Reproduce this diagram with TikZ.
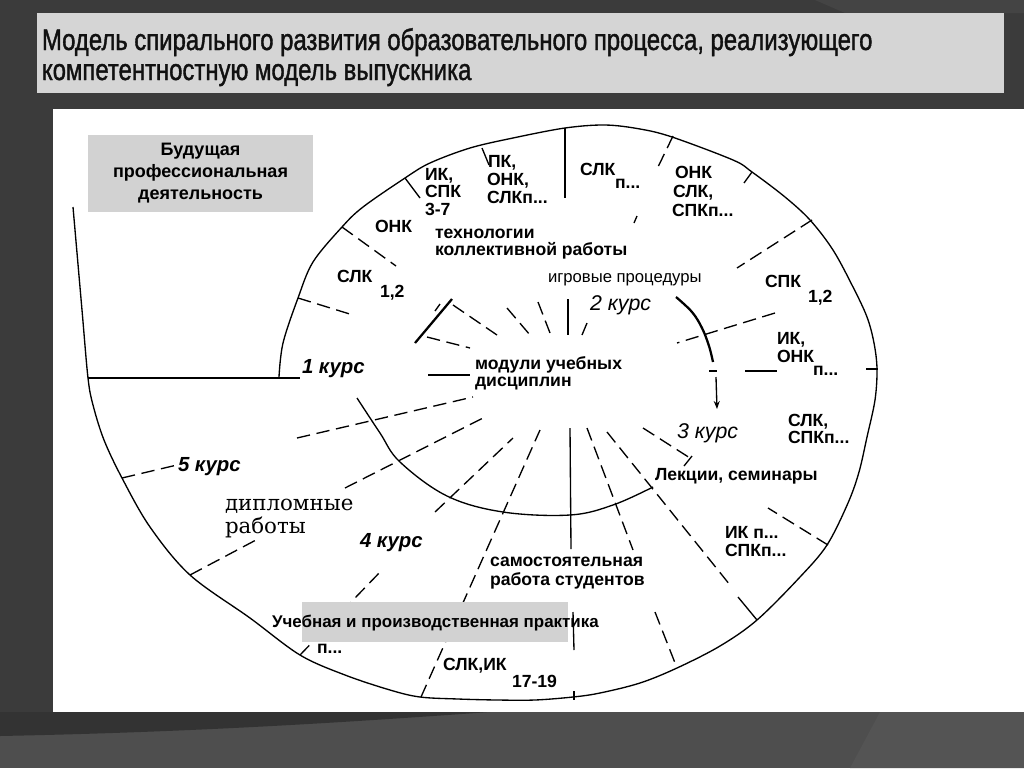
\documentclass[tikz,border=0pt]{standalone}
\usepackage{fontspec}
\setmainfont{Liberation Sans}
\newfontfamily\titlefont[FakeStretch=0.8, FakeBold=1.3]{Liberation Sans}
\newfontfamily\dipfont{DejaVu Serif}
\usetikzlibrary{arrows.meta}
\definecolor{bgdark}{HTML}{3B3B3B}
\definecolor{bgband}{HTML}{4E4E4E}
\definecolor{bgband2}{HTML}{545454}
\definecolor{bgtop}{HTML}{444444}
\definecolor{swoosh}{HTML}{333333}
\definecolor{titlegray}{HTML}{D5D5D5}
\definecolor{boxgray}{HTML}{D2D2D2}
\definecolor{titleink}{HTML}{111111}
\begin{document}
\begin{tikzpicture}[x=0.75pt,y=-0.75pt,
  every node/.style={inner sep=0pt, outer sep=0pt},
  lbl/.style={font=\bfseries\fontsize{13.2}{15}\selectfont, anchor=base west},
  plain/.style={font=\fontsize{12.5}{14}\selectfont, anchor=base west},
  kursb/.style={font=\bfseries\itshape\fontsize{15.3}{17}\selectfont, anchor=base west},
  kursi/.style={font=\itshape\fontsize{16}{17}\selectfont, anchor=base west},
  ttl/.style={font=\titlefont\fontsize{22.4}{25}\selectfont, anchor=base west, text=titleink},
  dip/.style={font=\dipfont\fontsize{16}{18}\selectfont, anchor=base west},
  ln/.style={line width=1pt, black},
  thk/.style={line width=1.7pt, black},
  dsh/.style={ln, dash pattern=on 10pt off 5pt},
]
\useasboundingbox (0,0) rectangle (1024,768);
% ---------- slide background ----------
\fill[bgdark] (0,0) rectangle (1024,768);
\fill[bgtop] (815,0) -- (1024,0) -- (1024,13) -- (845,13) -- cycle;
\fill[bgband] (0,712) rectangle (1024,768);
\fill[bgband2] (880,712) -- (1024,712) -- (1024,768) -- (850,768) -- cycle;
\fill[swoosh] (0,712) -- (490,712) .. controls (350,722) and (200,732) .. (0,736) -- cycle;
% ---------- title ----------
\fill[titlegray] (37,13) rectangle (1004,93);
\node[ttl] (t1) at (42,50) {Модель спирального развития образовательного процесса, реализующего};
\node[ttl] (t2) at (42,80) {компетентностную модель выпускника};
% ---------- white panel ----------
\fill[white] (53,109) rectangle (1024,712);
% ---------- spiral ----------
\draw[ln] plot[smooth, tension=0.55] coordinates {
 (279,377) (283,343) (298,298) (313,262) (342,227) (363,207) (405,178) (430,163)
 (470,148) (513,138) (565,128) (605,125) (640,129) (672,137) (733,160) (752,172)
 (785,197) (810,220) (833,250) (853,287) (867,317) (874,343) (877,369) (875,400)
 (867,437) (859,472) (848,503) (827,545) (800,577) (757,620) (720,646) (677,668)
 (640,683) (600,693) (573,697) (535,700) (497,700) (458,699) (420,697) (390,690)
 (345,675) (300,655) (250,618) (190,575) (150,527) (122,478) (104,440) (93,405)
 (88,378) (82,310) (73,207)};
% inner spiral arc
\draw[ln] plot[smooth, tension=0.6] coordinates {
 (357,398) (380,433) (400,462) (447,496) (503,512) (570,515) (613,505) (653,487)};
% second ring pieces
\draw[thk] (415,343) -- (452,299);
\draw[ln] (440,304) -- (435,311);
\draw[thk] plot[smooth, tension=0.6] coordinates {(676,297) (692,312) (702,328) (709,346) (713,362)};
\draw[ln] (709,371) -- (717,371);
\draw[ln, -{Stealth[length=6pt, width=4.5pt]}] (716,377) -- (717,409);
% ---------- solid radial lines ----------
\draw[ln] (565,128) -- (565,198);
\draw[ln] (568,299) -- (568,335);
\draw[ln] (570,428) -- (571,549);
\draw[ln] (573,612) -- (574,650);
\draw[ln] (574,691) -- (574,700);
\draw[ln] (88,378) -- (300,378);
\draw[ln] (428,375) -- (470,375);
\draw[ln] (745,371) -- (777,371);
\draw[ln] (866,369) -- (878,369);
\draw[ln] (405,178) -- (420,198);
\draw[ln] (482,148) -- (489,165);
\draw[ln] (752,172) -- (744,183);
\draw[ln] (587,323) -- (582,335);
\draw[ln] (738,597) -- (757,620);
\draw[ln] (692,456) -- (684,466);
% ---------- dashed radial lines ----------
\draw[dsh] (298,298) -- (353,315);
\draw[dsh] (427,337) -- (470,348);
\draw[dsh] (342,227) -- (396,266);
\draw[dsh] (453,305) -- (497,335);
\draw[dsh] (507,308) -- (530,335);
\draw[dsh] (538,302) -- (550,333);
\draw[dsh] (673,136) -- (658,167);
\draw[ln] (637,216) -- (634,223);
\draw[dsh] (812,220) -- (737,268);
\draw[dsh] (775,313) -- (677,343);
\draw[dsh] (122,478) -- (177,465);
\draw[dsh] (297,438) -- (473,397);
\draw[dsh] (190,575) -- (256,540);
\draw[dsh] (345,488) -- (485,417);
\draw[dsh] (300,655) -- (382,570);
\draw[dsh] (435,512) -- (513,438);
\draw[dsh] (421,697) -- (540,430);
\draw[dsh] (587,428) -- (633,550);
\draw[dsh] (655,612) -- (677,668);
\draw[dsh] (607,432) -- (730,585);
\draw[dsh] (643,428) -- (690,458);
\draw[dsh] (828,545) -- (768,508);
% ---------- grey boxes ----------
\node[fill=boxgray, minimum width=168.75pt, minimum height=57.75pt, align=center,
      font=\bfseries\fontsize{13.5}{16.5}\selectfont] (future) at (200.5,173.5)
      {Будущая\\профессиональная\\деятельность};
\fill[boxgray] (302,602) rectangle (568,642);
\node[lbl, font=\bfseries\fontsize{12.7}{14}\selectfont] (practice) at (272,627) {Учебная и производственная практика};
% ---------- labels ----------
\node[lbl] (a1) at (425,180) {ИК,};
\node[lbl] (a2) at (425,197) {СПК};
\node[lbl] (a3) at (425,215) {3-7};
\node[lbl] (b1) at (488,167) {ПК,};
\node[lbl] (b2) at (487,185) {ОНК,};
\node[lbl] (b3) at (487,203) {СЛКп...};
\node[lbl] (c1) at (375,232) {ОНК};
\node[lbl] (tech1) at (435,238) {технологии};
\node[lbl] (tech2) at (435,255) {коллективной работы};
\node[lbl] (d1) at (337,282) {СЛК};
\node[lbl] (d2) at (380,297) {1,2};
\node[kursb] (k1) at (302,373) {1 курс};
\node[lbl] (mod1) at (475,369) {модули учебных};
\node[lbl] (mod2) at (475,386) {дисциплин};
\node[plain] (igr) at (548,282) {игровые процедуры};
\node[kursi] (k2) at (590,310) {2 курс};
\node[lbl] (e1) at (580,175) {СЛК};
\node[lbl] (e2) at (615,188) {п...};
\node[lbl] (f1) at (675,178) {ОНК};
\node[lbl] (f2) at (673,197) {СЛК,};
\node[lbl] (f3) at (672,216) {СПКп...};
\node[lbl] (g1) at (765,287) {СПК};
\node[lbl] (g2) at (808,302) {1,2};
\node[lbl] (h1) at (777,344) {ИК,};
\node[lbl] (h2) at (777,362) {ОНК};
\node[lbl] (h3) at (813,375) {п...};
\node[lbl] (i1) at (788,426) {СЛК,};
\node[lbl] (i2) at (788,443) {СПКп...};
\node[kursi] (k3) at (677,438) {3 курс};
\node[lbl] (lect) at (655,480) {Лекции, семинары};
\node[lbl] (j1) at (725,538) {ИК п...};
\node[lbl] (j2) at (725,556) {СПКп...};
\node[lbl] (sam1) at (490,566) {самостоятельная};
\node[lbl] (sam2) at (490,585) {работа студентов};
\node[lbl] (m1) at (443,670) {СЛК,ИК};
\node[lbl] (m2) at (512,687) {17-19};
\node[lbl] (n1) at (317,653) {п...};
\node[kursb] (k4) at (360,547) {4 курс};
\node[kursb] (k5) at (178,471) {5 курс};
\node[dip] (dip1) at (225,510) {дипломные};
\node[dip] (dip2) at (225,533) {работы};
\end{tikzpicture}
\end{document}
